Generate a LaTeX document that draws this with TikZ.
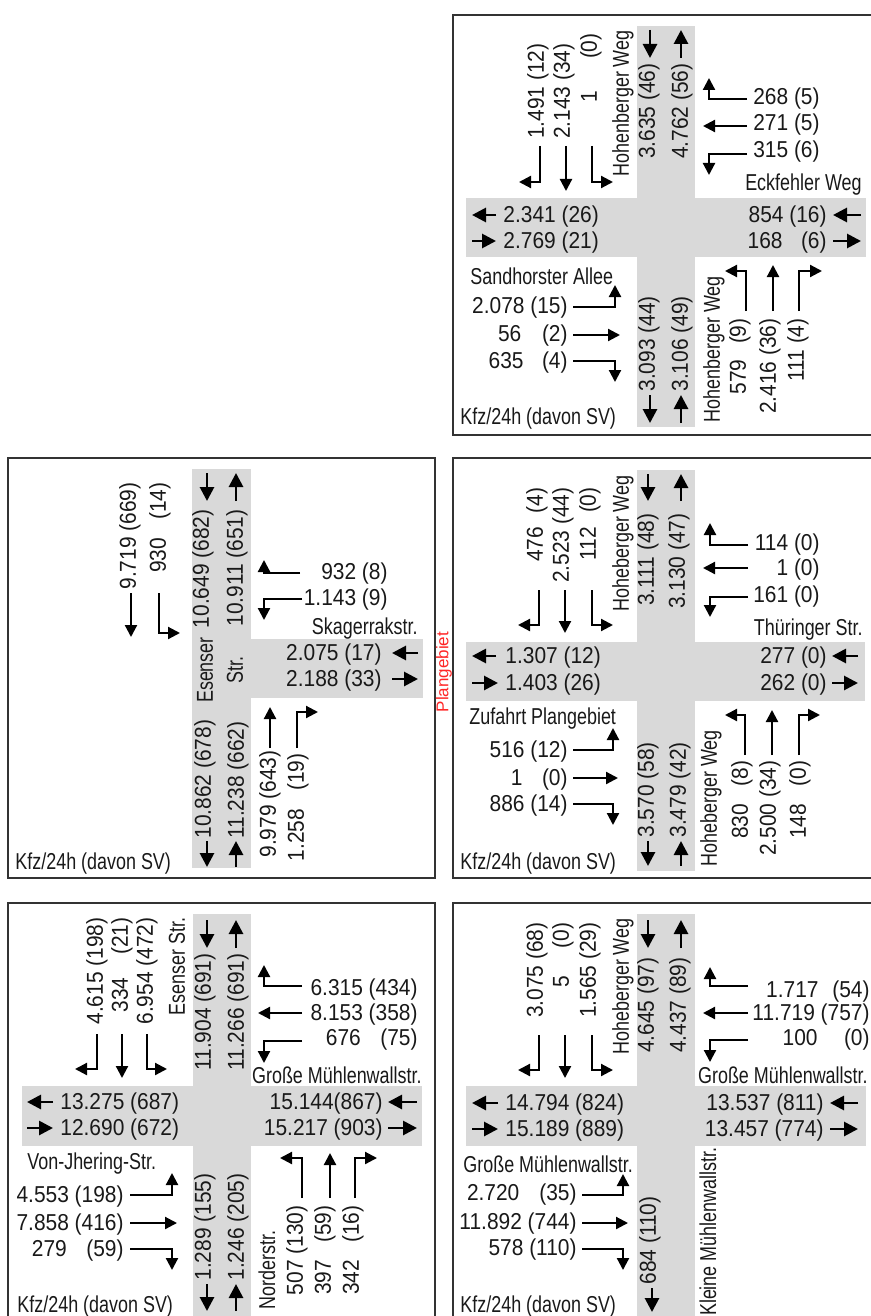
\documentclass[tikz,border=0pt]{standalone}
\usepackage{fontspec}
\setmainfont{Liberation Sans}
\newfontfamily\numfam{Liberation Sans}[FakeStretch=0.91]
\newfontfamily\streetfam{Liberation Sans}[FakeStretch=0.78]
\usepackage{tikz}
\usetikzlibrary{arrows.meta}
\newcommand\numsize{\numfam\fontsize{11.5pt}{13.8pt}\selectfont}
\newcommand\streetsize{\streetfam\fontsize{11.5pt}{15pt}\selectfont}
\tikzstyle{frame}   = [draw=black!80, line width=1.4pt]
\tikzstyle{band}    = [fill=black!15]
\tikzstyle{num}     = [font=\numsize, text=black!90, inner sep=0pt]
\tikzstyle{vnum}    = [num, rotate=90]
\tikzstyle{street}  = [font=\streetsize, text=black!90, inner sep=0pt]
\tikzstyle{vstreet} = [street, rotate=90]
\tikzstyle{flow}    = [-{Triangle[length=6pt,width=6pt]}, line width=1.1pt]
\tikzstyle{lane}    = [-{Triangle[length=7pt,width=7pt]}, line width=1.4pt]
\begin{document}
\begin{tikzpicture}[x=0.5pt, y=-0.5pt]
  \useasboundingbox (0,0) rectangle (871,1316);

  % Knoten 1: Hohenberger Weg / Eckfehler Weg / Sandhorster Allee
  \begin{scope}[shift={(453,15)}]
    \fill[band] (184,11) rectangle (242,412);
    \fill[band] (13,183) rectangle (413,242);
    \draw[frame] (0,0) rectangle (427,420);
    \draw[lane] (197,15) -- (197,43);
    \draw[lane] (228,43) -- (228,15);
    \node[vnum, anchor=east] (p1-nout) at (196,48) {3.635 (46)};
    \node[vnum, anchor=east] (p1-nin) at (229,48) {4.762 (56)};
    \node[vstreet, anchor=east] (p1-hwn) at (170,15) {Hohenberger Weg};
    \node[vnum, anchor=east] (p1-n1) at (85,28) {1.491 (12)};
    \node[vnum, anchor=east] (p1-n2) at (111,28) {2.143 (34)};
    \node[vnum, anchor=east] (p1-n3) at (138,18) {1\hspace{1.4em}(0)};
    \draw[flow] (87,131) |- (66,167);
    \draw[flow] (113,131) -- (113,176);
    \draw[flow] (139,131) |- (160,167);
    \node[num, anchor=east] (p1-e1) at (367,84) {268 (5)};
    \node[num, anchor=east] (p1-e2) at (367,110) {271 (5)};
    \node[num, anchor=east] (p1-e3) at (367,137) {315 (6)};
    \draw[flow] (294,84) -| (256,63);
    \draw[flow] (294,111) -- (250,111);
    \draw[flow] (294,139) -| (256,160);
    \node[street, anchor=east] (p1-ew) at (409,170) {Eckfehler Weg};
    \draw[lane] (43,200) -- (19,200);
    \draw[lane] (19,226) -- (43,226);
    \node[num, anchor=west] (p1-wout) at (50,202) {2.341 (26)};
    \node[num, anchor=west] (p1-win) at (50,228) {2.769 (21)};
    \draw[lane] (408,200) -- (380,200);
    \draw[lane] (380,226) -- (408,226);
    \node[num, anchor=east] (p1-ein) at (374,202) {854 (16)};
    \node[num, anchor=east] (p1-eout) at (374,228) {168\hspace{0.8em}(6)};
    \node[street, anchor=west] (p1-sa) at (17,261) {Sandhorster Allee};
    \node[num, anchor=east] (p1-w1) at (115,293) {2.078 (15)};
    \node[num, anchor=east] (p1-w2) at (115,321) {56\hspace{0.9em}(2)};
    \node[num, anchor=east] (p1-w3) at (115,348) {635\hspace{0.8em}(4)};
    \draw[flow] (120,292) -| (162,270);
    \draw[flow] (120,320) -- (167,320);
    \draw[flow] (120,346) -| (162,367);
    \draw[lane] (197,380) -- (197,408);
    \draw[lane] (228,408) -- (228,380);
    \node[vnum, anchor=west] (p1-sout) at (196,377) {3.093 (44)};
    \node[vnum, anchor=west] (p1-sin) at (229,377) {3.106 (49)};
    \node[vstreet, anchor=west] (p1-hws) at (261,408) {Hohenberger Weg};
    \node[vnum, anchor=east] (p1-s1) at (287,303) {579\hspace{0.67em}(9)};
    \node[vnum, anchor=east] (p1-s2) at (317,303) {2.416 (36)};
    \node[vnum, anchor=east] (p1-s3) at (345,303) {111 (4)};
    \draw[flow] (293,296) |- (272,256);
    \draw[flow] (320,296) -- (320,250);
    \draw[flow] (346,296) |- (369,256);
    \node[street, anchor=west] (p1-unit) at (7,404) {Kfz/24h (davon SV)};
  \end{scope}

  % Knoten 2: Esenser Str. / Skagerrakstr.
  \begin{scope}[shift={(8,458)}]
    \fill[band] (184,11) rectangle (243,410);
    \fill[band] (243,181) rectangle (415,240);
    \draw[frame] (0,0) rectangle (427,420);
    \draw[lane] (199,15) -- (199,43);
    \draw[lane] (228,43) -- (228,15);
    \node[vnum, anchor=east] (p2-nout) at (195,51) {10.649 (682)};
    \node[vnum, anchor=east] (p2-nin) at (229,51) {10.911 (651)};
    \node[vstreet, align=center] (p2-es) at (212,212) {Esenser\\Str.};
    \node[vnum, anchor=east] (p2-n1) at (122,24) {9.719 (669)};
    \node[vnum, anchor=east] (p2-n2) at (152,24) {930\hspace{0.8em}(14)};
    \draw[flow] (123,135) -- (123,179);
    \draw[flow] (151,135) |- (172,175);
    \node[num, anchor=east] (p2-e1) at (380,116) {932 (8)};
    \node[num, anchor=east] (p2-e2) at (380,142) {1.143 (9)};
    \draw[flow] (292,115) -| (256,102);
    \draw[flow] (294,141) -| (256,162);
    \node[street, anchor=east] (p2-sk) at (410,171) {Skagerrakstr.};
    \draw[lane] (410,195) -- (384,195);
    \draw[lane] (384,221) -- (410,221);
    \node[num, anchor=east] (p2-ein) at (374,197) {2.075 (17)};
    \node[num, anchor=east] (p2-eout) at (374,223) {2.188 (33)};
    \node[vnum, anchor=east] (p2-s1) at (262,292) {9.979 (643)};
    \node[vnum, anchor=east] (p2-s2) at (290,295) {1.258\hspace{0.8em}(19)};
    \draw[flow] (262,290) -- (262,249);
    \draw[flow] (289,290) |- (310,254);
    \draw[lane] (199,383) -- (199,409);
    \draw[lane] (228,409) -- (228,383);
    \node[vnum, anchor=west] (p2-sout) at (197,381) {10.862 (678)};
    \node[vnum, anchor=west] (p2-sin) at (230,381) {11.238 (662)};
    \node[street, anchor=west] (p2-unit) at (7,406) {Kfz/24h (davon SV)};
  \end{scope}

  % Grenze Plangebiet
  \node[rotate=90, font=\fontsize{8.5pt}{10pt}\selectfont, text=red!85!white, inner sep=0pt]
    (plan) at (444,672) {Plangebiet};

  % Knoten 3: Hoheberger Weg / Thueringer Str. / Zufahrt Plangebiet
  \begin{scope}[shift={(453,458)}]
    \fill[band] (184,12) rectangle (242,413);
    \fill[band] (13,184) rectangle (412,243);
    \draw[frame] (0,0) rectangle (427,420);
    \draw[lane] (195,16) -- (195,43);
    \draw[lane] (228,43) -- (228,16);
    \node[vnum, anchor=east] (p3-nout) at (195,55) {3.111 (48)};
    \node[vnum, anchor=east] (p3-nin) at (226,55) {3.130 (47)};
    \node[vstreet, anchor=east] (p3-hbn) at (170,17) {Hoheberger Weg};
    \node[vnum, anchor=east] (p3-n1) at (84,29) {476\hspace{0.6em}(4)};
    \node[vnum, anchor=east] (p3-n2) at (110,29) {2.523 (44)};
    \node[vnum, anchor=east] (p3-n3) at (137,29) {112\hspace{0.6em}(0)};
    \draw[flow] (86,132) |- (65,167);
    \draw[flow] (112,132) -- (112,175);
    \draw[flow] (139,132) |- (160,167);
    \node[num, anchor=east] (p3-e1) at (367,87) {114 (0)};
    \node[num, anchor=east] (p3-e2) at (367,112) {1 (0)};
    \node[num, anchor=east] (p3-e3) at (367,139) {161 (0)};
    \draw[flow] (295,87) -| (257,65);
    \draw[flow] (295,110) -- (250,110);
    \draw[flow] (295,139) -| (257,159);
    \node[street, anchor=east] (p3-th) at (410,172) {Thüringer Str.};
    \draw[lane] (43,198) -- (19,198);
    \draw[lane] (19,225) -- (45,225);
    \node[num, anchor=west] (p3-wout) at (52,200) {1.307 (12)};
    \node[num, anchor=west] (p3-win) at (52,227) {1.403 (26)};
    \draw[lane] (405,198) -- (379,198);
    \draw[lane] (379,225) -- (405,225);
    \node[num, anchor=east] (p3-ein) at (374,200) {277 (0)};
    \node[num, anchor=east] (p3-eout) at (374,227) {262 (0)};
    \node[street, anchor=west] (p3-zp) at (16,261) {Zufahrt Plangebiet};
    \node[num, anchor=east] (p3-w1) at (115,294) {516 (12)};
    \node[num, anchor=east] (p3-w2) at (115,322) {1\hspace{0.85em}(0)};
    \node[num, anchor=east] (p3-w3) at (115,348) {886 (14)};
    \draw[flow] (120,292) -| (160,270);
    \draw[flow] (120,320) -- (165,320);
    \draw[flow] (120,346) -| (160,367);
    \draw[lane] (195,383) -- (195,408);
    \draw[lane] (228,408) -- (228,383);
    \node[vnum, anchor=west] (p3-sout) at (195,380) {3.570 (58)};
    \node[vnum, anchor=west] (p3-sin) at (227,380) {3.479 (42)};
    \node[vstreet, anchor=west] (p3-hbs) at (258,409) {Hoheberger Weg};
    \node[vnum, anchor=east] (p3-s1) at (289,302) {830\hspace{0.78em}(8)};
    \node[vnum, anchor=east] (p3-s2) at (317,302) {2.500 (34)};
    \node[vnum, anchor=east] (p3-s3) at (347,302) {148\hspace{0.78em}(0)};
    \draw[flow] (292,297) |- (272,257);
    \draw[flow] (319,297) -- (319,252);
    \draw[flow] (346,297) |- (367,257);
    \node[street, anchor=west] (p3-unit) at (7,406) {Kfz/24h (davon SV)};
  \end{scope}

  % Knoten 4: Esenser Str. / Grosse Muehlenwallstr. / Von-Jhering-Str. / Norderstr.
  \begin{scope}[shift={(8,903)}]
    \fill[band] (185,11) rectangle (243,420);
    \fill[band] (14,183) rectangle (414,243);
    \draw[frame] (0,0) rectangle (427,420);
    \draw[lane] (199,17) -- (199,45);
    \draw[lane] (228,45) -- (228,17);
    \node[vnum, anchor=east] (p4-nout) at (197,50) {11.904 (691)};
    \node[vnum, anchor=east] (p4-nin) at (230,50) {11.266 (691)};
    \node[vstreet, anchor=east] (p4-es) at (169,14) {Esenser Str.};
    \node[vnum, anchor=east] (p4-n1) at (89,14) {4.615 (198)};
    \node[vnum, anchor=east] (p4-n2) at (114,14) {334\hspace{1em}(21)};
    \node[vnum, anchor=east] (p4-n3) at (139,14) {6.954 (472)};
    \draw[flow] (89,131) |- (67,166);
    \draw[flow] (114,131) -- (114,175);
    \draw[flow] (139,131) |- (159,166);
    \node[num, anchor=east] (p4-e1) at (410,87) {6.315 (434)};
    \node[num, anchor=east] (p4-e2) at (410,112) {8.153 (358)};
    \node[num, anchor=east] (p4-e3) at (410,137) {676\hspace{0.85em}(75)};
    \draw[flow] (294,83) -| (256,62);
    \draw[flow] (294,110) -- (250,110);
    \draw[flow] (294,138) -| (256,160);
    \node[street, anchor=east] (p4-gme) at (414,172) {Große Mühlenwallstr.};
    \draw[lane] (45,199) -- (19,199);
    \draw[lane] (19,225) -- (45,225);
    \node[num, anchor=west] (p4-wout) at (52,201) {13.275 (687)};
    \node[num, anchor=west] (p4-win) at (52,227) {12.690 (672)};
    \draw[lane] (409,199) -- (380,199);
    \draw[lane] (380,225) -- (409,225);
    \node[num, anchor=east] (p4-ein) at (375,201) {15.144(867)};
    \node[num, anchor=east] (p4-eout) at (375,227) {15.217 (903)};
    \node[street, anchor=west] (p4-vj) at (19,261) {Von-Jhering-Str.};
    \node[num, anchor=east] (p4-w1) at (116,294) {4.553 (198)};
    \node[num, anchor=east] (p4-w2) at (116,322) {7.858 (416)};
    \node[num, anchor=east] (p4-w3) at (116,348) {279\hspace{0.85em}(59)};
    \draw[flow] (122,292) -| (164,270);
    \draw[flow] (122,320) -- (169,320);
    \draw[flow] (122,346) -| (164,367);
    \draw[lane] (199,381) -- (199,408);
    \draw[lane] (228,408) -- (228,381);
    \node[vnum, anchor=west] (p4-sout) at (197,378) {1.289 (155)};
    \node[vnum, anchor=west] (p4-sin) at (230,378) {1.246 (205)};
    \node[vstreet, anchor=west] (p4-nd) at (259,407) {Norderstr.};
    \node[vnum, anchor=east] (p4-s1) at (289,302) {507 (130)};
    \node[vnum, anchor=east] (p4-s2) at (317,302) {397\hspace{0.75em}(59)};
    \node[vnum, anchor=east] (p4-s3) at (345,302) {342\hspace{0.75em}(16)};
    \draw[flow] (294,295) |- (272,255);
    \draw[flow] (322,295) -- (322,250);
    \draw[flow] (347,295) |- (369,255);
    \node[street, anchor=west] (p4-unit) at (9,404) {Kfz/24h (davon SV)};
  \end{scope}

  % Knoten 5: Hoheberger Weg / Grosse Muehlenwallstr. / Kleine Muehlenwallstr.
  \begin{scope}[shift={(453,903)}]
    \fill[band] (184,11) rectangle (242,420);
    \fill[band] (13,183) rectangle (413,243);
    \draw[frame] (0,0) rectangle (427,420);
    \draw[lane] (195,17) -- (195,45);
    \draw[lane] (228,45) -- (228,17);
    \node[vnum, anchor=east] (p5-nout) at (195,54) {4.645 (97)};
    \node[vnum, anchor=east] (p5-nin) at (227,54) {4.437 (89)};
    \node[vstreet, anchor=east] (p5-hb) at (170,15) {Hoheberger Weg};
    \node[vnum, anchor=east] (p5-n1) at (84,19) {3.075 (68)};
    \node[vnum, anchor=east] (p5-n2) at (110,19) {5\hspace{1.2em}(0)};
    \node[vnum, anchor=east] (p5-n3) at (137,19) {1.565 (29)};
    \draw[flow] (86,132) |- (65,167);
    \draw[flow] (112,132) -- (112,175);
    \draw[flow] (139,132) |- (160,167);
    \node[num, anchor=east] (p5-e1) at (417,89) {1.717\hspace{0.6em}(54)};
    \node[num, anchor=east] (p5-e2) at (417,112) {11.719 (757)};
    \node[num, anchor=east] (p5-e3) at (417,137) {100\hspace{1.15em}(0)};
    \draw[flow] (295,83) -| (257,64);
    \draw[flow] (295,110) -- (250,110);
    \draw[flow] (295,137) -| (257,159);
    \node[street, anchor=east] (p5-gme) at (415,172) {Große Mühlenwallstr.};
    \draw[lane] (45,200) -- (19,200);
    \draw[lane] (19,226) -- (45,226);
    \node[num, anchor=west] (p5-wout) at (52,202) {14.794 (824)};
    \node[num, anchor=west] (p5-win) at (52,228) {15.189 (889)};
    \draw[lane] (405,200) -- (377,200);
    \draw[lane] (377,226) -- (405,226);
    \node[num, anchor=east] (p5-ein) at (371,202) {13.537 (811)};
    \node[num, anchor=east] (p5-eout) at (371,228) {13.457 (774)};
    \node[street, anchor=west] (p5-gmw) at (10,261) {Große Mühlenwallstr.};
    \node[num, anchor=east] (p5-w1) at (124,292) {2.720\hspace{0.87em}(35)};
    \node[num, anchor=east] (p5-w2) at (124,321) {11.892 (744)};
    \node[num, anchor=east] (p5-w3) at (124,347) {578 (110)};
    \draw[flow] (129,292) -| (170,271);
    \draw[flow] (129,320) -- (175,320);
    \draw[flow] (129,346) -| (170,367);
    \draw[lane] (199,385) -- (199,409);
    \node[vnum, anchor=west] (p5-sout) at (197,382) {684 (110)};
    \node[vstreet, anchor=east] (p5-km) at (255,244) {Kleine Mühlenwallstr.};
    \node[street, anchor=west] (p5-unit) at (7,404) {Kfz/24h (davon SV)};
  \end{scope}
\end{tikzpicture}
\end{document}
